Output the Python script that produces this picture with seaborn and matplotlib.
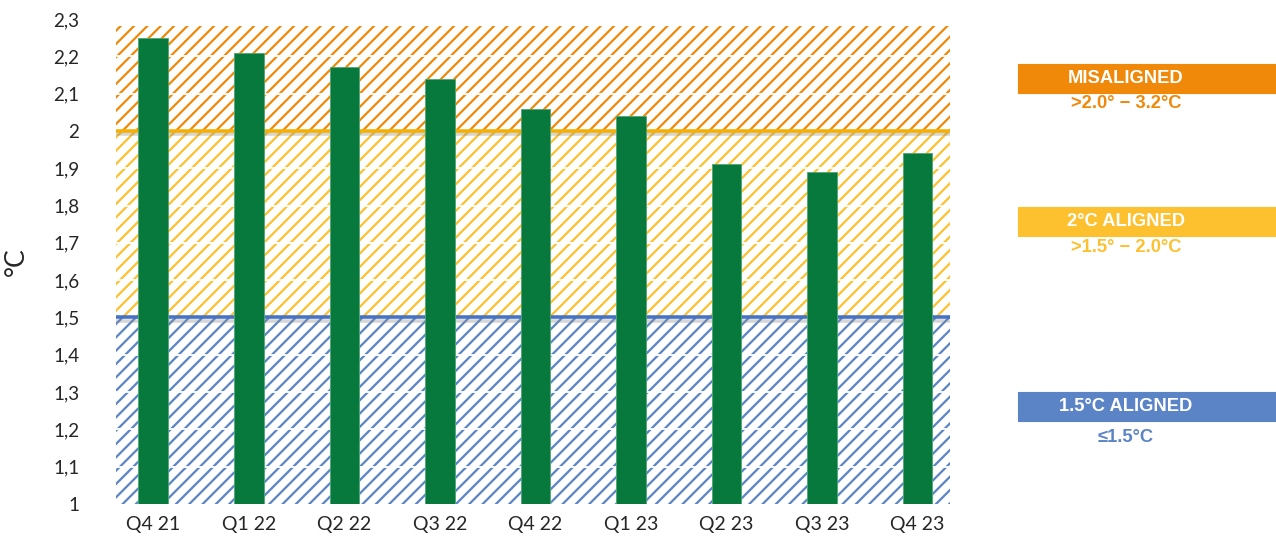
import numpy as np
import pandas as pd
import matplotlib
matplotlib.use("Agg")
import matplotlib.pyplot as plt
import matplotlib.patheffects as pe
import seaborn as sns

# data
quarters = ["Q4 21", "Q1 22", "Q2 22", "Q3 22", "Q4 22", "Q1 23", "Q2 23", "Q3 23", "Q4 23"]
temps = [2.25, 2.21, 2.17, 2.14, 2.06, 2.04, 1.91, 1.89, 1.94]
yticks = [1.0, 1.1, 1.2, 1.3, 1.4, 1.5, 1.6, 1.7, 1.8, 1.9, 2.0, 2.1, 2.2, 2.3]
ytick_labels = ["1", "1,1", "1,2", "1,3", "1,4", "1,5", "1,6", "1,7", "1,8", "1,9", "2", "2,1", "2,2", "2,3"]
band_edges = [1.0, 1.5, 2.0, 2.28]
band_names = ["1.5°C ALIGNED", "2°C ALIGNED", "MISALIGNED"]
band_ranges = ["≤1.5°C", ">1.5° − 2.0°C", ">2.0° − 3.2°C"]
thresholds = [1.5, 2.0]

ORANGE = "#F0890A"
YELLOW = "#FDC02F"
BLUE = "#5B84C6"
GREEN = "#07793D"
band_colors = [BLUE, YELLOW, ORANGE]
line_colors = ["#4472C4", "#F5B000"]

sns.set_style("white")
plt.rcParams["font.family"] = ["Lato", "DejaVu Sans"]
plt.rcParams["hatch.linewidth"] = 2.0

dpi = 80
fig = plt.figure(figsize=(1276 / dpi, 546 / dpi), dpi=dpi)
ax = fig.add_axes([116 / 1276, 42 / 546, 834 / 1276, 485 / 546])

df = pd.DataFrame({"quarter": quarters, "temp": temps})
sns.barplot(data=df, x="quarter", y="temp", color=GREEN, saturation=1,
            width=0.31, edgecolor="#4FA874", linewidth=0.8, ax=ax)
for p in ax.patches:
    p.set_zorder(4)

ax.set_xlim(-0.39, 8.34)
ax.set_ylim(1.0, 2.3)

# hatched temperature bands
for lo, hi, c in zip(band_edges[:-1], band_edges[1:], band_colors):
    ax.fill_between([-0.39, 8.34], lo, hi, facecolor="white", edgecolor=c,
                    hatch="//", linewidth=0, zorder=0)

# white breaks in the hatch at every tick
for t in yticks[1:-1]:
    ax.axhline(t, color="white", lw=1.6, zorder=1)

# threshold lines with soft shadow
for t, c in zip(thresholds, line_colors):
    ax.axhline(t, color=c, lw=3.2, zorder=2,
               path_effects=[pe.SimpleLineShadow(offset=(0, -3), shadow_color="#888888", alpha=0.35),
                             pe.Normal()])

ax.set_yticks(yticks)
ax.set_yticklabels(ytick_labels, fontsize=17)
ax.tick_params(axis="y", length=0, pad=33)
ax.tick_params(axis="x", length=0, pad=11, labelsize=17.5)
ax.set_xlabel("")
ax.set_ylabel("°C", fontsize=24, labelpad=22)
sns.despine(ax=ax, left=True, bottom=True)

# right-hand legend boxes (pixel positions from the top)
box_top = [392, 207, 64]
sub_offset = [45, 41, 40]
for name, rng, c, top, off in zip(band_names, band_ranges, band_colors, box_top, sub_offset):
    fig.patches.append(plt.Rectangle((1018 / 1276, 1 - (top + 29) / 546), 258 / 1276, 29 / 546,
                                     transform=fig.transFigure, color=c, zorder=1))
    fig.text(1126 / 1276, 1 - (top + 14.5) / 546, name, ha="center", va="center",
             color="white", fontsize=16.5, fontweight="bold", family="Liberation Sans")
    fig.text(1126 / 1276, 1 - (top + off) / 546, rng, ha="center", va="center",
             color=c, fontsize=16.5, fontweight="bold", family="Liberation Sans")

fig.savefig("out.png", dpi=dpi)
